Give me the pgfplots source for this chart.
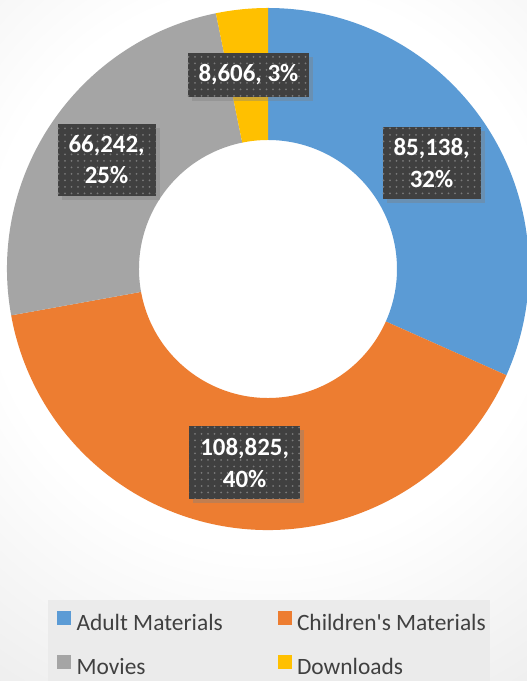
\documentclass[border=0pt]{standalone}
\usepackage{pgfplots}
\pgfplotsset{compat=1.18}
\usepackage{pgfplotstable}
\usepackage{fontspec}
\setmainfont{Carlito}
\usetikzlibrary{shadows,patterns.meta}

\definecolor{adultc}{HTML}{5B9BD5}
\definecolor{childc}{HTML}{ED7D31}
\definecolor{moviec}{HTML}{A5A5A5}
\definecolor{dlc}{HTML}{FFC000}
\definecolor{lblbox}{HTML}{404040}
\definecolor{legtext}{HTML}{404040}
\definecolor{legbg}{HTML}{EBEBEB}

\pgfdeclareradialshading{bgshade}{\pgfpoint{0bp}{0bp}}{color(0bp)=(white); color(14bp)=(white); color(27bp)=(black!8); color(40bp)=(black!11); color(50bp)=(black!19)}

\pgfplotstableread[col sep=comma]{
name,value,fillc,twoline
Adult Materials,85138,adultc,1
Children Materials,108825,childc,1
Movies,66242,moviec,1
Downloads,8606,dlc,0
}\slices

% integer with thousands separator (expandable)
\newcommand\pad[1]{\ifnum#1<100 0\fi\ifnum#1<10 0\fi#1}
\newcommand\thou[1]{\ifnum#1<1000 #1\else\number\numexpr(#1-500)/1000\relax,\expandafter\pad\expandafter{\number\numexpr#1-1000*((#1-500)/1000)\relax}\fi}

% angles of the slices, clockwise from the top
\def\total{0}
\foreach \i in {0,...,3}{\pgfplotstablegetelem{\i}{value}\of\slices
  \xdef\total{\fpeval{\total+\pgfplotsretval}}}
\def\cum{0}
\foreach \i in {0,...,3}{%
  \pgfplotstablegetelem{\i}{value}\of\slices
  \let\val\pgfplotsretval
  \expandafter\xdef\csname a\i\endcsname{\fpeval{90-360*\cum/\total}}%
  \xdef\cum{\fpeval{\cum+\val}}%
  \expandafter\xdef\csname b\i\endcsname{\fpeval{90-360*\cum/\total}}%
  \expandafter\xdef\csname m\i\endcsname{\fpeval{(\csname a\i\endcsname+\csname b\i\endcsname)/2}}%
  \expandafter\xdef\csname p\i\endcsname{\fpeval{round(100*\val/\total)}}%
  \expandafter\xdef\csname v\i\endcsname{\val}%
  \pgfplotstablegetelem{\i}{fillc}\of\slices
  \expandafter\xdef\csname c\i\endcsname{\pgfplotsretval}%
  \pgfplotstablegetelem{\i}{twoline}\of\slices
  \expandafter\xdef\csname t\i\endcsname{\pgfplotsretval}%
}

% ring: centre (268,412) in axis units (1 unit = 1bp), radii 261 / 129
\newcommand\slicepath[1]{%
  \edef\temp{\noexpand\fill[fill=\csname c#1\endcsname, shift={(axis cs:268,412)}]
    (\csname a#1\endcsname:261bp) arc[start angle=\csname a#1\endcsname, end angle=\csname b#1\endcsname, radius=261bp]
    -- (\csname b#1\endcsname:129bp) arc[start angle=\csname b#1\endcsname, end angle=\csname a#1\endcsname, radius=129bp] -- cycle;}%
  \temp}
\newcommand\slicelabel[1]{%
  \edef\temp{\noexpand\node[lbl] at (axis cs:{268+195*cos(\csname m#1\endcsname)},{412+195*sin(\csname m#1\endcsname)})
    {\thou{\csname v#1\endcsname},\ifnum\csname t#1\endcsname=1 \noexpand\\\else\space\fi\csname p#1\endcsname\noexpand\%};}%
  \temp}

\begin{document}
\begin{tikzpicture}[
  lbl/.style={fill=lblbox, postaction={pattern={Dots[distance=6.5bp, radius=1bp]}, pattern color=black!52},
    text=white, font=\bfseries\fontsize{25}{32}\selectfont, align=center,
    inner xsep=11bp, inner ysep=11.5bp,
    drop shadow={shadow xshift=4bp, shadow yshift=-4bp, opacity=0.4}}]
\begin{scope}
\clip (0,0) rectangle (527bp,681bp);
\shade[shading=bgshade] (268bp,412bp) circle (500bp);
\end{scope}
\begin{axis}[
  scale only axis, width=527bp, height=681bp,
  xmin=0, xmax=527, ymin=0, ymax=681,
  hide axis, clip=false,
  legend columns=2,
  legend cell align=left,
  legend style={at={(0.0911,0.1189)}, anchor=north west, fill=legbg, draw=none,
    inner xsep=9bp, inner ysep=10bp, column sep=6bp, row sep=17bp,
    font=\fontsize{23.5}{28}\selectfont, text=legtext,
    nodes={inner sep=0pt, text height=20bp, text depth=7bp}},
]
\pgfplotsinvokeforeach{0,...,3}{\slicepath{#1}}
\pgfplotsinvokeforeach{0,...,3}{\slicelabel{#1}}
\addlegendimage{legend image code/.code={\fill[adultc] (0bp,0bp) rectangle (13bp,13bp);}}
\addlegendentry{\makebox[195bp][l]{Adult Materials}}
\addlegendimage{legend image code/.code={\fill[childc] (0bp,0bp) rectangle (13bp,13bp);}}
\addlegendentry{\makebox[184bp][l]{Children\textquotesingle s Materials}}
\addlegendimage{legend image code/.code={\fill[moviec] (0bp,0bp) rectangle (13bp,13bp);}}
\addlegendentry{\makebox[195bp][l]{Movies}}
\addlegendimage{legend image code/.code={\fill[dlc] (0bp,0bp) rectangle (13bp,13bp);}}
\addlegendentry{\makebox[184bp][l]{Downloads}}
\end{axis}
\pgfresetboundingbox
\path[use as bounding box] (0,0) rectangle (527bp,681bp);
\end{tikzpicture}
\end{document}
